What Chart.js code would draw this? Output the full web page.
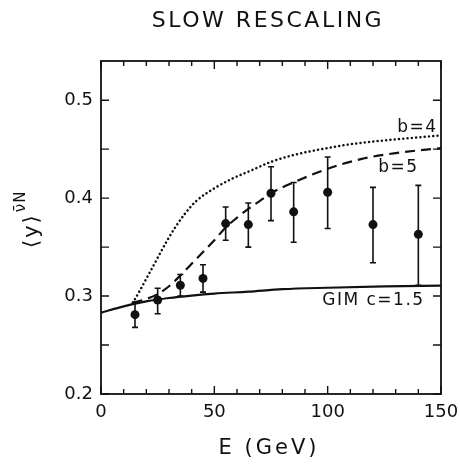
<!DOCTYPE html>
<html>
<head>
<meta charset="utf-8">
<script src="https://cdn.jsdelivr.net/npm/chart.js@4"></script>
<style>
html,body{margin:0;padding:0;background:#fff;}
#wrap{width:460px;height:464px;position:relative;}
</style>
</head>
<body>
<div id="wrap"><canvas id="c"></canvas></div>
<script>
// ---- data ----
const ptE    = [15, 25, 35, 45, 55, 65, 75, 85, 100, 120, 140];
const ptY    = [0.281, 0.296, 0.311, 0.318, 0.374, 0.373, 0.405, 0.386, 0.406, 0.373, 0.363];
const ptLow  = [0.268, 0.282, 0.300, 0.304, 0.357, 0.350, 0.377, 0.355, 0.369, 0.334, 0.311];
const ptHigh = [0.294, 0.308, 0.322, 0.332, 0.391, 0.395, 0.432, 0.416, 0.442, 0.411, 0.413];

const gimE = [0, 10, 20, 30, 40, 50, 65, 80, 100, 125, 150];
const gimY = [0.283, 0.2895, 0.2945, 0.298, 0.3005, 0.3025, 0.3045, 0.307, 0.3085, 0.3098, 0.3106];

const b4E = [14, 17, 21, 25, 29, 33, 37, 42, 50, 58, 66, 75, 85, 95, 110, 130, 150];
const b4Y = [0.293, 0.305, 0.322, 0.339, 0.356, 0.371, 0.384, 0.397, 0.410, 0.420, 0.428, 0.437, 0.444, 0.449, 0.455, 0.460, 0.464];

const b5E = [14, 20, 25, 30, 35, 40, 45, 50, 55, 60, 65, 70, 75, 85, 100, 115, 130, 150];
const b5Y = [0.293, 0.297, 0.302, 0.310, 0.321, 0.333, 0.345, 0.357, 0.370, 0.380, 0.389, 0.397, 0.405, 0.416, 0.430, 0.440, 0.446, 0.451];

const xTicks = [0, 50, 100, 150];
const yTicks = [0.2, 0.3, 0.4, 0.5];
const xMinorStep = 10;
const yMinorStep = 0.05;

const curveLabels = [
  {text: 'b=4', x: 139.6, y: 0.4716},
  {text: 'b=5', x: 131.2, y: 0.431},
  {text: 'GIM c=1.5', x: 120.2, y: 0.2956}
];

const titleText = 'SLOW RESCALING';
const xTitle = 'E (GeV)';
const yTitleMain = '\u27E8y\u27E9';
const yTitleSup = '\u03BD\u0304N';

const INK = '#111';
const FONT = "'DejaVu Sans', 'Liberation Sans', sans-serif";

const zip = (xs, ys) => xs.map((x, i) => ({x, y: ys[i]}));

const deco = {
  id: 'deco',
  beforeDatasetsDraw(chart) {
    const ctx = chart.ctx, xs = chart.scales.x, ys = chart.scales.y;
    ctx.save();
    ctx.strokeStyle = INK;
    ctx.lineWidth = 1.6;
    for (let i = 0; i < ptE.length; i++) {
      const px = xs.getPixelForValue(ptE[i]);
      const yl = ys.getPixelForValue(ptLow[i]);
      const yh = ys.getPixelForValue(ptHigh[i]);
      ctx.beginPath();
      ctx.moveTo(px, yl); ctx.lineTo(px, yh);
      ctx.moveTo(px - 3, yl); ctx.lineTo(px + 3, yl);
      ctx.moveTo(px - 3, yh); ctx.lineTo(px + 3, yh);
      ctx.stroke();
    }
    ctx.restore();
  },
  afterDraw(chart) {
    const ctx = chart.ctx, a = chart.chartArea, xs = chart.scales.x, ys = chart.scales.y;
    ctx.save();
    ctx.strokeStyle = INK;
    ctx.fillStyle = INK;
    // frame
    ctx.lineWidth = 1.8;
    ctx.strokeRect(a.left, a.top, a.right - a.left, a.bottom - a.top);
    // ticks
    ctx.lineWidth = 1.4;
    ctx.beginPath();
    for (let v = xs.min; v <= xs.max + 1e-9; v += xMinorStep) {
      const px = xs.getPixelForValue(v);
      const len = xTicks.includes(Math.round(v)) ? 8 : 5;
      ctx.moveTo(px, a.bottom); ctx.lineTo(px, a.bottom - len);
      ctx.moveTo(px, a.top); ctx.lineTo(px, a.top + len);
    }
    for (let v = ys.min; v <= 0.5 + 1e-9; v += yMinorStep) {
      const py = ys.getPixelForValue(v);
      const len = 8;
      ctx.moveTo(a.left, py); ctx.lineTo(a.left + len, py);
      ctx.moveTo(a.right, py); ctx.lineTo(a.right - len, py);
    }
    ctx.stroke();

    // curve labels
    ctx.font = '17px ' + FONT;
    ctx.textAlign = 'center';
    ctx.textBaseline = 'middle';
    ctx.letterSpacing = '1.5px';
    curveLabels.forEach(l => {
      ctx.fillText(l.text, xs.getPixelForValue(l.x), ys.getPixelForValue(l.y));
    });

    // title
    ctx.font = '22px ' + FONT;
    ctx.letterSpacing = '2.5px';
    ctx.fillText(titleText, 268, 21);

    // x title
    ctx.font = '21px ' + FONT;
    ctx.letterSpacing = '3px';
    ctx.fillText(xTitle, (a.left + a.right) / 2 - 2, 449);

    // y title (rotated)
    ctx.translate(33, 248);
    ctx.rotate(-Math.PI / 2);
    ctx.textAlign = 'left';
    ctx.font = '21px ' + FONT;
    ctx.letterSpacing = '2px';
    ctx.fillText(yTitleMain, 0, 0);
    const w = ctx.measureText(yTitleMain).width;
    ctx.font = '15px ' + FONT;
    ctx.letterSpacing = '1px';
    ctx.fillText(yTitleSup, w + 1, -12);
    ctx.restore();
  }
};

Chart.defaults.font.family = FONT;
Chart.defaults.color = INK;

new Chart(document.getElementById('c'), {
  type: 'scatter',
  data: {
    datasets: [
      {
        label: 'GIM c=1.5',
        data: zip(gimE, gimY),
        showLine: true, pointRadius: 0,
        borderColor: INK, borderWidth: 2.2,
        cubicInterpolationMode: 'monotone'
      },
      {
        label: 'b=4',
        data: zip(b4E, b4Y),
        showLine: true, pointRadius: 0,
        borderColor: INK, borderWidth: 2.5,
        borderDash: [0.1, 4.2], borderCapStyle: 'round',
        cubicInterpolationMode: 'monotone'
      },
      {
        label: 'b=5',
        data: zip(b5E, b5Y),
        showLine: true, pointRadius: 0,
        borderColor: INK, borderWidth: 2.2,
        borderDash: [10, 6],
        cubicInterpolationMode: 'monotone'
      },
      {
        label: 'data',
        data: zip(ptE, ptY),
        showLine: false,
        pointRadius: 4.5,
        pointBackgroundColor: INK,
        pointBorderWidth: 0
      }
    ]
  },
  options: {
    responsive: true,
    maintainAspectRatio: false,
    animation: false,
    layout: {padding: {top: 61, right: 19, left: 0, bottom: 0}},
    plugins: {legend: {display: false}, tooltip: {enabled: false}, title: {display: false}},
    scales: {
      x: {
        type: 'linear', position: 'bottom', min: 0, max: 150,
        grid: {display: false, drawTicks: false},
        border: {display: false},
        ticks: {font: {size: 18}, color: INK, padding: 8, maxRotation: 0, autoSkip: false},
        afterBuildTicks: s => { s.ticks = xTicks.map(v => ({value: v})); },
        afterFit: s => { s.height = 70; s.paddingLeft = 0; s.paddingRight = 0; }
      },
      y: {
        type: 'linear', position: 'left', min: 0.2, max: 0.54,
        grid: {display: false, drawTicks: false},
        border: {display: false},
        ticks: {font: {size: 18}, color: INK, padding: 8},
        afterBuildTicks: s => { s.ticks = yTicks.map(v => ({value: v})); },
        afterFit: s => { s.width = 101; s.paddingTop = 0; s.paddingBottom = 0; }
      }
    }
  },
  plugins: [deco]
});
</script>
</body>
</html>
